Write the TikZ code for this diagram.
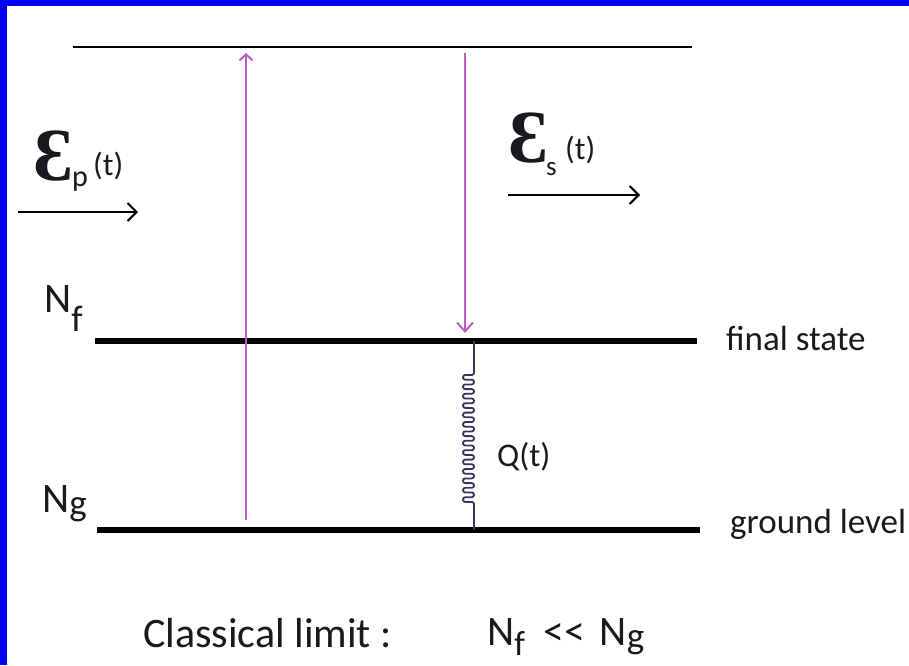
\documentclass[tikz,border=0pt]{standalone}
\usepackage{fontspec}
\setmainfont{Carlito}
\newfontfamily\epsfont{Liberation Serif}
\usetikzlibrary{arrows.meta}
\definecolor{bordblue}{RGB}{0,0,255}
\definecolor{lilac}{RGB}{185,95,195}
\definecolor{springcol}{RGB}{60,50,95}
\definecolor{txt}{RGB}{25,25,30}
\tikzset{
  lbl/.style={inner sep=0pt, anchor=base west, text=txt},
  thinlevel/.style={line width=2pt, black},
  thicklevel/.style={line width=5.5pt, black},
  photon/.style={line width=2pt, lilac},
  field/.style={line width=2pt, black, -{Straight Barb[length=9pt,width=18pt,line width=2pt]}},
  spring/.style={line width=1.8pt, springcol, rounded corners=2.2pt},
}
\begin{document}
\begin{tikzpicture}[x=1pt,y=-1pt]
\useasboundingbox (0,0) rectangle (909,665);
\fill[white] (0,0) rectangle (909,665);
\fill[bordblue] (0,0) rectangle (909,6);
\fill[bordblue] (0,0) rectangle (7,665);

% levels
\coordinate (topL) at (73,47);
\coordinate (topR) at (692,47);
\coordinate (finL) at (95,341);
\coordinate (finR) at (697,341);
\coordinate (gndL) at (97,530);
\coordinate (gndR) at (700,530);
\draw[thinlevel] (topL) -- (topR);
\draw[thicklevel] (finL) -- (finR);
\draw[thicklevel] (gndL) -- (gndR);

% pump and stokes transitions
\coordinate (upS) at (246,520);
\coordinate (upE) at (246,53);
\coordinate (dnS) at (465,53);
\coordinate (dnE) at (465,333);
\draw[photon, -{Straight Barb[length=6pt,width=13pt,line width=2pt]}] (upS) -- (upE);
\draw[photon, -{Straight Barb[length=9pt,width=16pt,line width=2pt]}] (dnS) -- (dnE);

% spring Q(t)
\coordinate (spT) at (474,341);
\coordinate (spB) at (474,530);
\draw[spring] (spT) -- (474,375)
  \foreach \i in {1,...,14} { -- ++(-11,0) -- ++(0,4.7) -- ++(11,0) -- ++(0,4.7) }
  -- (spB);

% field arrows
\coordinate (epS) at (18,212);
\coordinate (epE) at (138,212);
\coordinate (esS) at (508,195);
\coordinate (esE) at (640,195);
\draw[field] (epS) -- (epE);
\draw[field] (esS) -- (esE);

% field labels
\node[lbl, font=\epsfont\bfseries\fontsize{75}{75}\selectfont] (epE1) at (33,180) {Ɛ};
\node[lbl, font=\fontsize{30}{30}\selectfont] (epP) at (72,186) {p};
\node[lbl, font=\fontsize{32}{32}\selectfont] (epT) at (93,175) {(t)};
\node[lbl, font=\epsfont\bfseries\fontsize{75}{75}\selectfont] (esE1) at (508,162) {Ɛ};
\node[lbl, font=\fontsize{27}{27}\selectfont] (esS1) at (546,175) {s};
\node[lbl, font=\fontsize{32}{32}\selectfont] (esT) at (565,159) {(t)};

% populations
\node[lbl, font=\fontsize{42}{42}\selectfont] (nf) at (44,312) {N\raisebox{-19pt}{\fontsize{37}{37}\selectfont f}};
\node[lbl, font=\fontsize{42}{42}\selectfont] (ng) at (42,512) {N\raisebox{-3pt}{\fontsize{37}{37}\selectfont g}};

% level labels
\node[lbl, font=\fontsize{35}{35}\selectfont] (fs) at (726,350) {final state};
\node[lbl, font=\fontsize{35}{35}\selectfont] (gl) at (730,533) {ground level};
\node[lbl, font=\fontsize{33}{33}\selectfont] (q) at (497,466) {Q(t)};

% bottom
\node[lbl, font=\fontsize{42}{42}\selectfont] (cl) at (143,647) {Classical limit :};
\node[lbl, font=\fontsize{42}{42}\selectfont] (lim) at (487,645) {N\raisebox{-10pt}{\fontsize{35}{35}\selectfont f}\hspace{18pt}{\fontsize{42}{42}\selectfont <\kern1pt<}\hspace{14pt}N\raisebox{-3pt}{\fontsize{37}{37}\selectfont g}};
\end{tikzpicture}
\end{document}
